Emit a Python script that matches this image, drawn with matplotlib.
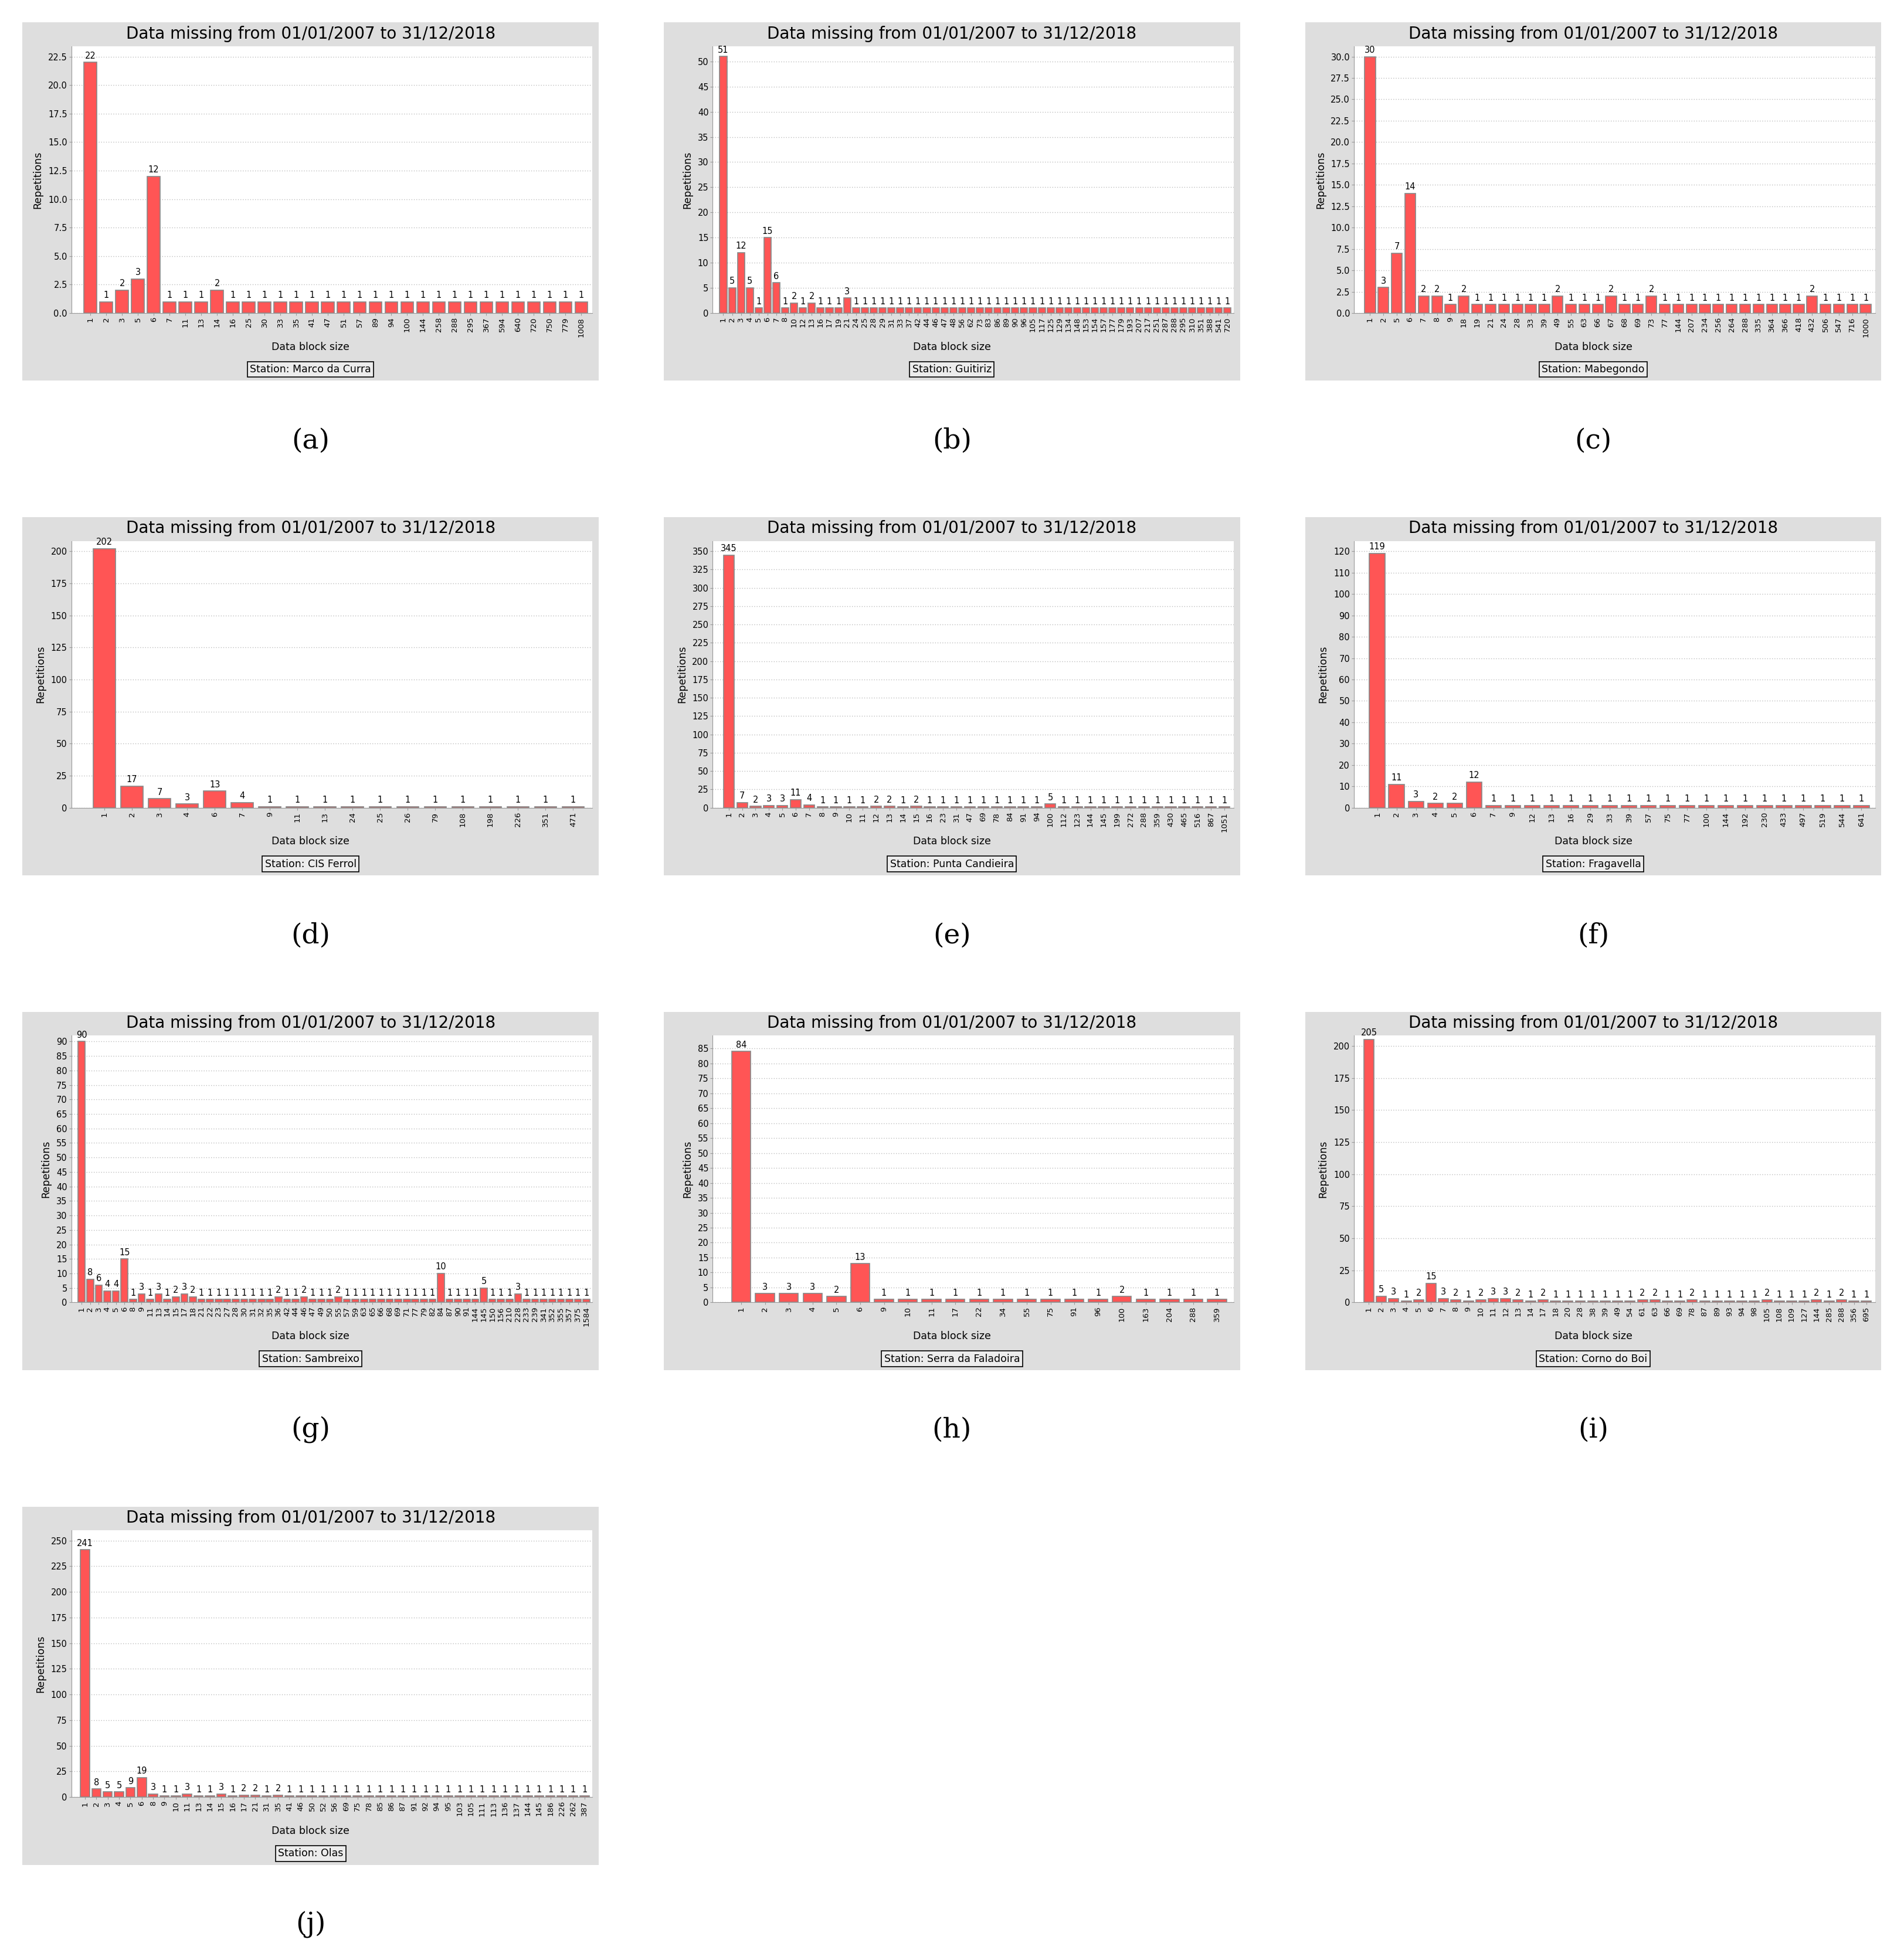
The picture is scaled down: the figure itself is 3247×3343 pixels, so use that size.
import matplotlib
matplotlib.use("Agg")
import matplotlib.pyplot as plt
from matplotlib.patches import Rectangle
import numpy as np

# ---------------- data ----------------
a_labels = [1,2,3,5,6,7,11,13,14,16,25,30,33,35,41,47,51,57,89,94,100,144,258,288,295,367,594,640,720,750,779,1008]
a_values = [22,1,2,3,12,1,1,1,2,1,1,1,1,1,1,1,1,1,1,1,1,1,1,1,1,1,1,1,1,1,1,1]

b_labels = [1,2,3,4,5,6,7,8,10,12,13,16,17,19,21,24,25,28,29,31,33,37,42,44,46,47,48,56,
            62,73,83,86,89,90,96,105,117,125,129,134,148,153,154,157,177,179,193,207,217,251,
            287,288,295,310,351,388,541,720]
b_values = [51,5,12,5,1,15,6,1,2,1,2,1,1,1,3] + [1]*43

c_labels = [1,2,5,6,7,8,9,18,19,21,24,28,33,39,49,55,63,66,67,68,69,73,77,144,207,234,256,264,288,335,364,366,418,432,506,547,716,1000]
c_values = [30,3,7,14,2,2,1,2,1,1,1,1,1,1,2,1,1,1,2,1,1,2,1,1,1,1,1,1,1,1,1,1,1,2,1,1,1,1]

d_labels = [1,2,3,4,6,7,9,11,13,24,25,26,79,108,198,226,351,471]
d_values = [202,17,7,3,13,4,1,1,1,1,1,1,1,1,1,1,1,1]

e_labels = [1,2,3,4,5,6,7,8,9,10,11,12,13,14,15,16,23,31,47,69,78,84,91,94,100,112,123,144,145,199,272,288,359,430,465,516,867,1051]
e_values = [345,7,2,3,3,11,4,1,1,1,1,2,2,1,2,1,1,1,1,1,1,1,1,1,5,1,1,1,1,1,1,1,1,1,1,1,1,1]

f_labels = [1,2,3,4,5,6,7,9,12,13,16,29,33,39,57,75,77,100,144,192,230,433,497,519,544,641]
f_values = [119,11,3,2,2,12] + [1]*20

g_labels = [1,2,3,4,5,6,8,9,11,13,14,15,17,18,21,22,23,27,28,30,31,32,35,36,42,44,46,47,49,50,
            55,57,59,63,65,66,68,69,71,77,79,82,84,87,90,91,144,145,150,156,210,228,233,239,341,352,355,357,375,1584]
g_values = [90,8,6,4,4,15,1,3,1,3,1,2,3,2,1,1,1,1,1,1,1,1,1,2,1,1,2,1,1,1,2,
            1,1,1,1,1,1,1,1,1,1,1,10,1,1,1,1,5,1,1,1,3,1,1,1,1,1,1,1,1]

h_labels = [1,2,3,4,5,6,9,10,11,17,22,34,55,75,91,96,100,163,204,288,359]
h_values = [84,3,3,3,2,13,1,1,1,1,1,1,1,1,1,1,2,1,1,1,1]

i_labels = [1,2,3,4,5,6,7,8,9,10,11,12,13,14,17,18,20,28,38,39,49,54,61,63,66,69,78,87,89,93,94,98,105,108,109,127,144,285,288,356,695]
i_values = [205,5,3,1,2,15,3,2,1,2,3,3,2,1,2,1,1,1,1,1,1,1,2,2,1,1,2,1,1,1,1,1,2,1,1,1,2,1,2,1,1]

j_labels = [1,2,3,4,5,6,8,9,10,11,13,14,15,16,17,21,31,35,41,46,50,52,56,69,75,78,85,86,87,91,92,94,95,103,105,111,113,136,137,144,145,186,226,262,387]
j_values = [241,8,5,5,9,19,3,1,1,3,1,1,3,1,2,2,1,2] + [1]*27

stations = ["Marco da Curra","Guitiriz","Mabegondo","CIS Ferrol","Punta Candieira",
            "Fragavella","Sambreixo","Serra da Faladoira","Corno do Boi","Olas"]
panels = [(a_labels,a_values),(b_labels,b_values),(c_labels,c_values),(d_labels,d_values),
          (e_labels,e_values),(f_labels,f_values),(g_labels,g_values),(h_labels,h_values),
          (i_labels,i_values),(j_labels,j_values)]
yticks = [(22.5,2.5,True),(50,5,False),(30,2.5,True),(200,25,False),(350,25,False),
          (120,10,False),(90,5,False),(85,5,False),(200,25,False),(250,25,False)]
letters = "abcdefghij"

W, H = 3247, 3343
fig = plt.figure(figsize=(W/100, H/100), dpi=100)
S = 2.136  # display->pixel scale

def fx(x): return x*S/W
def fy(y): return 1 - y*S/H

for k, ((labs, vals), (ymax, step, dec)) in enumerate(zip(panels, yticks)):
    col, row = k % 3, k // 3
    px, py = 18 + col*512, 18 + row*395
    pw, ph = 460, 286
    # gray frame
    bg = fig.add_axes([fx(px), fy(py+ph), pw*S/W, ph*S/H])
    bg.set_facecolor("#dedede"); bg.set_xticks([]); bg.set_yticks([])
    for s in bg.spines.values(): s.set_visible(False)
    bg.set_xlim(0, 1); bg.set_ylim(0, 1)
    bg.text(0.5, 1 - 9/ph, "Data missing from 01/01/2007 to 31/12/2018", ha="center", va="center", fontsize=20)
    bg.text(0.5, 1 - 259/ph, "Data block size", ha="center", va="center", fontsize=12.5)
    bg.text(0.5, 1 - 277/ph, "Station: " + stations[k], ha="center", va="center", fontsize=12.5,
            bbox=dict(boxstyle="square,pad=0.25", fc="#ececec", ec="black", lw=1.2))
    bg.text(-0.045 + 0.045, 0.5, "", fontsize=1)
    # caption
    fig.text(fx(px + pw/2), fy(py + 334), f"({letters[k]})", ha="center", va="center",
             fontsize=34, family="DejaVu Serif")
    # plot area
    l, r, t, b = px + 39, px + 455, py + 19, py + 232
    ax = fig.add_axes([fx(l), fy(b), (r-l)*S/W, (b-t)*S/H])
    x = np.arange(len(vals))
    ax.bar(x, vals, width=0.8, color="#ff5555", edgecolor="#888888", linewidth=1.2, zorder=3)
    top = ymax * 1.04 if k not in (1, 7) else ymax * 1.05
    if k == 1: top = 53
    if k == 6: top = 92
    ax.set_ylim(0, top)
    ax.set_xlim(-1.2, len(vals) - 0.3)
    for xi, v in zip(x, vals):
        ax.text(xi, v + top*0.008, str(v), ha="center", va="bottom", fontsize=10.5,
                family="DejaVu Sans Condensed" if False else "DejaVu Sans")
    ax.set_xticks(x)
    ax.set_xticklabels([str(s) for s in labs], rotation=90, fontsize=9.5)
    yt = np.arange(0, ymax + step/2, step)
    ax.set_yticks(yt)
    ax.set_yticklabels([f"{v:.1f}" if dec else f"{int(v)}" for v in yt], fontsize=10.5)
    ax.set_ylabel("Repetitions", fontsize=12.5, labelpad=6)
    ax.grid(axis="y", linestyle=(0, (1, 2)), color="#bbbbbb", linewidth=1, zorder=0)
    for s in ["top", "right"]: ax.spines[s].set_visible(False)
    ax.spines["left"].set_color("#999999"); ax.spines["bottom"].set_color("#999999")
    ax.tick_params(length=3, color="#999999", pad=2)

fig.savefig("out.png", dpi=100)
